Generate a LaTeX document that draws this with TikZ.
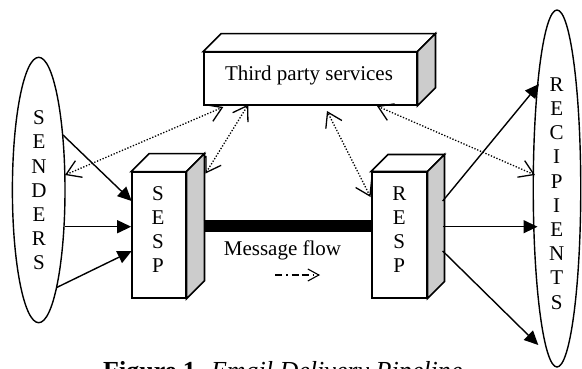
\documentclass[tikz,border=0pt]{standalone}
\usepackage{fontspec}
\setmainfont{Liberation Serif}
\usetikzlibrary{arrows.meta,shapes.geometric}
\definecolor{sidegray}{RGB}{204,204,204}
\begin{document}
\begin{tikzpicture}[x=1pt,y=-1pt,
  face/.style={line width=1.6pt, line join=miter},
  front/.style={draw, line width=1.6pt, fill=white, inner sep=0pt},
  letters/.style={align=center, inner sep=0pt, font=\fontsize{21}{24.2}\selectfont},
  lbl/.style={inner sep=0pt, font=\fontsize{21}{25}\selectfont},
  party/.style={draw, ellipse, line width=1.4pt, inner sep=0pt},
  solidarrow/.style={line width=1.4pt, -{Triangle[length=14pt,width=13pt]}},
  dotarrow/.style={line width=1.3pt, dash pattern=on 1.3pt off 1.7pt,
     {Straight Barb[length=14pt,width=18pt]}-{Straight Barb[length=14pt,width=18pt]}},
]
\useasboundingbox (0,0) rectangle (582,368);

% 3D boxes
\node[front, minimum width=212.7pt, minimum height=52.7pt] (tps) at (310.3,78.7) {};
\node[front, minimum width=53.7pt, minimum height=125.7pt] (sesp) at (158.8,235.2) {};
\node[front, minimum width=55pt, minimum height=125.4pt] (resp) at (399.2,235) {};
\foreach \b/\d in {tps/18, sesp/18, resp/17} {
  \draw[face, fill=white] (\b.north west) -- ++(\d,-\d) -- ([shift={(\d,-\d)}]\b.north east) -- (\b.north east) -- cycle;
  \draw[face, fill=sidegray] (\b.north east) -- ([shift={(\d,-\d)}]\b.north east) -- ([shift={(\d,-\d)}]\b.south east) -- (\b.south east) -- cycle;
}
\node[lbl, anchor=base] (tpstxt) at (309,80) {Third party services};
\node[letters] (sesptxt) at (158,229.5) {S\\E\\S\\P};
\node[letters] (resptxt) at (399.3,229.5) {R\\E\\S\\P};

% senders / recipients
\node[party, minimum width=52.6pt, minimum height=265.4pt] (senders) at (38.7,190) {};
\node[letters] (sendtxt) at (39,190.5) {S\\E\\N\\D\\E\\R\\S};
\node[party, minimum width=47.5pt, minimum height=357pt] (recip) at (557,188.5) {};
\node[letters] (rectxt) at (556.7,193.5) {R\\E\\C\\I\\P\\I\\E\\N\\T\\S};

% message flow bar
\coordinate (sespside) at (203.7,225.8);
\draw[line width=11.7pt] (sespside) -- (resp.west |- sespside);
\node[lbl, anchor=base] (mf) at (282.5,255) {Message flow};
\coordinate (mfa) at (275,275);
\coordinate (mfb) at (320,275);
\draw[line width=1.1pt, dash pattern=on 7pt off 4pt on 1.5pt off 4pt on 7pt off 3pt,
      -{Straight Barb[length=11pt,width=12pt]}] (mfa) -- (mfb);

% senders -> SESP
\coordinate (s1) at (63,135);   \coordinate (e1) at (131.7,201);
\coordinate (s2) at (64.5,226.7);
\coordinate (s3) at (56.7,287.5); \coordinate (e3) at (131.7,251);
\draw[solidarrow] (s1) -- (e1);
\draw[solidarrow] (s2) -- (sesp.west |- s2);
\draw[solidarrow] (s3) -- (e3);

% RESP -> recipients
\coordinate (r1) at (442.7,201);   \coordinate (t1) at (539,84);
\coordinate (r2) at (442.7,226.7); \coordinate (t2) at (537.5,226.7);
\coordinate (r3) at (442.7,251);   \coordinate (t3) at (538.3,345);
\draw[solidarrow] (r1) -- (t1);
\draw[solidarrow] (r2) -- (t2);
\draw[solidarrow] (r3) -- (t3);

% dotted links to third party services
\coordinate (da1) at (65,175);    \coordinate (da2) at (223.3,107);
\coordinate (db1) at (205.5,173.5); \coordinate (db2) at (248.3,104.5);
\coordinate (dc1) at (370.5,197); \coordinate (dc2) at (327,111);
\coordinate (dd1) at (535,175);   \coordinate (dd2) at (377,106);
\draw[dotarrow] (da1) -- (da2);
\draw[dotarrow] (db1) -- (db2);
\draw[dotarrow] (dc1) -- (dc2);
\draw[dotarrow] (dd1) -- (dd2);

% caption (cut by the page edge as in the reference)
\node[anchor=base west, inner sep=0pt, font=\fontsize{26}{30}\selectfont] (cap) at (103,379)
  {\textbf{Figure 1.} \textit{Email Delivery Pipeline}};
\end{tikzpicture}
\end{document}
